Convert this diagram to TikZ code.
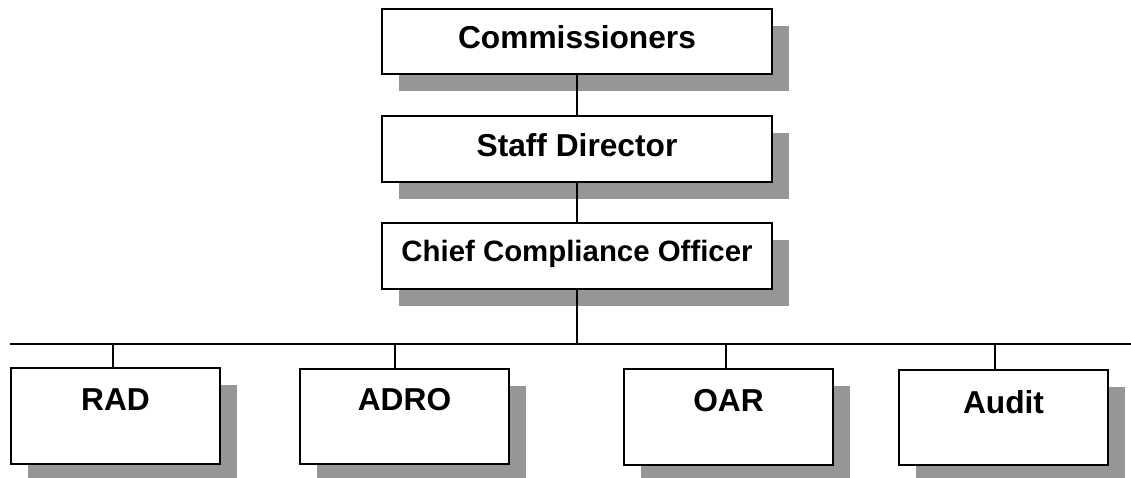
\documentclass[tikz,border=0pt]{standalone}
\usepackage{fontspec}
\setmainfont{Liberation Sans}
\usetikzlibrary{shadows}
\definecolor{shadowgray}{HTML}{969696}
\tikzset{
  x=1pt, y=1pt,
  orgbox/.style={draw=black, line width=2pt, fill=white, anchor=north west,
    inner sep=0pt, outer sep=0pt, general shadow={fill=shadowgray, shadow xshift=17pt, shadow yshift=-17pt}},
  boxtext/.style={anchor=base, inner sep=0pt, font=\bfseries\fontsize{31.7}{38}\selectfont},
  conn/.style={draw=black, line width=1.3pt}
}
\begin{document}
\begin{tikzpicture}
\useasboundingbox (0,0) rectangle (1131,-478);
\begin{scope}
\clip (0,0) rectangle (1131,-478);
% top chain
\node[orgbox, minimum width=390pt, minimum height=65pt] (comm) at (382,-9) {};
\node[orgbox, minimum width=390pt, minimum height=66pt] (staff) at (382,-116) {};
\node[orgbox, minimum width=390pt, minimum height=66pt] (chief) at (382,-223) {};
% bottom row
\node[orgbox, minimum width=209pt, minimum height=96pt] (rad) at (11,-368) {};
\node[orgbox, minimum width=209pt, minimum height=95pt] (adro) at (300,-369) {};
\node[orgbox, minimum width=209pt, minimum height=96pt] (oar) at (624,-369) {};
\node[orgbox, minimum width=209pt, minimum height=95pt] (audit) at (899,-370) {};
\end{scope}
% texts
\node[boxtext] (commt) at (577,-49) {Commissioners};
\node[boxtext] (stafft) at (577,-157) {Staff Director};
\node[boxtext, font=\bfseries\fontsize{29.4}{35}\selectfont] (chieft) at (577,-261) {Chief Compliance Officer};
\node[boxtext] (radt) at (115.5,-410) {RAD};
\node[boxtext] (adrot) at (404.5,-410) {ADRO};
\node[boxtext] (oart) at (728.5,-411) {OAR};
\node[boxtext] (auditt) at (1003.5,-413) {Audit};
% bus coordinates
\coordinate (busl) at (10,-344);
\coordinate (busr) at (1131,-344);
\coordinate (busc) at (chief.south |- busl);
\coordinate (t1) at (113,-344);
\coordinate (t2) at (395,-344);
\coordinate (t3) at (726,-344);
\coordinate (t4) at (995,-344);
% connectors
\draw[conn] (comm.south) -- (staff.north);
\draw[conn] (staff.south) -- (chief.north);
\draw[conn] (chief.south) -- (busc);
\draw[conn] (busl) -- (busr);
\draw[conn] (t1) -- (t1 |- rad.north);
\draw[conn] (t2) -- (t2 |- adro.north);
\draw[conn] (t3) -- (t3 |- oar.north);
\draw[conn] (t4) -- (t4 |- audit.north);
\end{tikzpicture}
\end{document}
